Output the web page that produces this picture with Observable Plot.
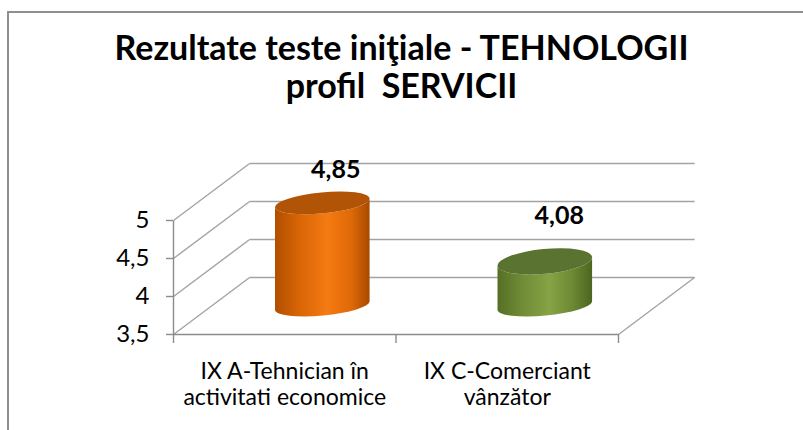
<!DOCTYPE html>
<html><head><meta charset="utf-8">
<script src="https://cdn.jsdelivr.net/npm/d3@7"></script>
<script src="https://cdn.jsdelivr.net/npm/@observablehq/plot@0.6"></script>
<style>
html,body{margin:0;padding:0;background:#fff;}
#wrap{position:relative;width:803px;height:430px;overflow:hidden;font-family:Lato,"Open Sans",sans-serif;}
#border{position:absolute;left:7px;top:11px;right:-10px;bottom:-10px;border-top:2px solid #8f8f8f;border-left:2px solid #8f8f8f;}
#title{position:absolute;left:0;top:28px;width:803px;text-align:center;font-weight:bold;font-size:34px;line-height:38px;white-space:pre;color:#000;}
#chart{position:absolute;left:0;top:0;}
</style></head><body>
<div id="wrap"><div id="border"></div><div id="title"></div><div id="chart"></div></div>
<script>
// ---- data ----
const titleLines = ["Rezultate teste iniţiale - TEHNOLOGII", "profil  SERVICII"];
const categories = ["IX A-Tehnician în\nactivitati economice", "IX C-Comerciant\nvânzător"];
const values = [4.85, 4.08];
const valueLabels = ["4,85", "4,08"];
const yTicks = [3.5, 4, 4.5, 5];

// ---- styles ----
const FONT = "Lato, 'Open Sans', sans-serif";
const GRID = "#a3a3a3";
const AXIS = "#8c8c8c";
const DEPTH_X = 0.342;  // depth of the 3D box, in category units
const DEPTH_Y = 0.75;   // depth of the 3D box, in value units
const palettes = [
  {top: "#b15405", stops: ["#b04f00", "#d86406", "#f57a12", "#e06a08", "#a84a00"]},
  {top: "#5b7331", stops: ["#556f25", "#6f8b36", "#86a346", "#6c8833", "#4d6520"]}
];

document.getElementById("title").textContent = titleLines.join("\n");

const rows = categories.map((c, i) => ({i, category: c, value: values[i], label: valueLabels[i]}));
const base = yTicks[0], topTick = yTicks[yTicks.length - 1];
const nCat = categories.length;

function cylinders(index, scales) {
  const xs = scales.x, ys = scales.y;
  const g = d3.create("svg:g");
  const defs = g.append("defs");
  const depthPx = xs(DEPTH_X) - xs(0);
  const depthPy = ys(base + DEPTH_Y) - ys(base);
  const rot = -5.4, a = rot * Math.PI / 180;
  rows.forEach((d, i) => {
    const p = palettes[i];
    const grad = defs.append("linearGradient").attr("id", "cyl" + i)
      .attr("x1", 0).attr("x2", 1).attr("y1", 0).attr("y2", 0);
    [0, 0.25, 0.55, 0.8, 1].forEach((o, k) => grad.append("stop").attr("offset", o).attr("stop-color", p.stops[k]));
    const cx = xs(d.i + 0.5) + depthPx / 2;
    const yt = ys(d.value) + depthPy / 2;
    const yb = ys(base) + depthPy / 2;
    const rx = 47.5;
    const ryT = 0.0339 * (yt + 107);
    const ryB = 10;
    const ex = rx * Math.cos(a), ey = -rx * Math.sin(a);
    const path = `M${cx - ex},${yt + ey} L${cx - ex},${yb + ey} A${rx},${ryB} ${rot} 0 0 ${cx + ex},${yb - ey} L${cx + ex},${yt - ey} A${rx},${ryT} ${rot} 0 1 ${cx - ex},${yt + ey} Z`;
    g.append("path").attr("d", path).attr("fill", `url(#cyl${i})`);
    g.append("ellipse").attr("cx", cx).attr("cy", yt).attr("rx", rx).attr("ry", ryT)
      .attr("transform", `rotate(${rot} ${cx} ${yt})`).attr("fill", p.top);
  });
  return g.node();
}

const chart = Plot.plot({
  width: 803, height: 430,
  marginLeft: 173, marginRight: 185, marginTop: 220, marginBottom: 96,
  x: {type: "linear", domain: [0, nCat]},
  y: {type: "linear", domain: [base, topTick]},
  style: {fontFamily: FONT, background: "transparent", overflow: "visible"},
  marks: [
    // back wall
    Plot.link(yTicks, {x1: () => DEPTH_X, x2: () => nCat + DEPTH_X, y1: v => v + DEPTH_Y, y2: v => v + DEPTH_Y, stroke: GRID, strokeWidth: 1.4}),
    // side wall diagonals
    Plot.link(yTicks, {x1: () => 0, x2: () => DEPTH_X, y1: v => v, y2: v => v + DEPTH_Y, stroke: GRID, strokeWidth: 1.4}),
    // floor right edge
    Plot.link([base], {x1: () => nCat, x2: () => nCat + DEPTH_X, y1: v => v, y2: v => v + DEPTH_Y, stroke: GRID, strokeWidth: 1.4}),
    // floor front edge
    Plot.link([base], {x1: () => 0, x2: () => nCat, y1: v => v, y2: v => v, stroke: AXIS, strokeWidth: 1.4}),
    // y axis line
    Plot.link([0], {x1: v => v, x2: v => v, y1: () => base, y2: () => topTick, stroke: AXIS, strokeWidth: 1.4}),
    Plot.axisY({ticks: yTicks, tickSize: 7, tickPadding: 17, tickFormat: d => String(d).replace(".", ","),
      stroke: AXIS, strokeWidth: 1.4, fill: "#000", fontSize: 24, label: null}),
    Plot.axisX({ticks: d3.range(nCat + 1), tickSize: 9, tickFormat: () => "", stroke: AXIS, strokeWidth: 1.4, label: null}),
    // category labels
    Plot.text(rows, {x: d => d.i + 0.5, y: () => base, text: "category", lineAnchor: "top", dy: 26,
      lineHeight: 1.12, fontSize: 23, fill: "#000", textAnchor: "middle"}),
    // cylinders
    cylinders,
    // value labels
    Plot.text(rows.slice(0, 1), {x: d => d.i + 0.5, y: "value", text: "label", dx: 51, dy: -62, fontSize: 25, fontWeight: "bold", fill: "#000"}),
    Plot.text(rows.slice(1, 2), {x: d => d.i + 0.5, y: "value", text: "label", dx: 52, dy: -74, fontSize: 25, fontWeight: "bold", fill: "#000"})
  ]
});
document.getElementById("chart").appendChild(chart);
</script>
</body></html>
